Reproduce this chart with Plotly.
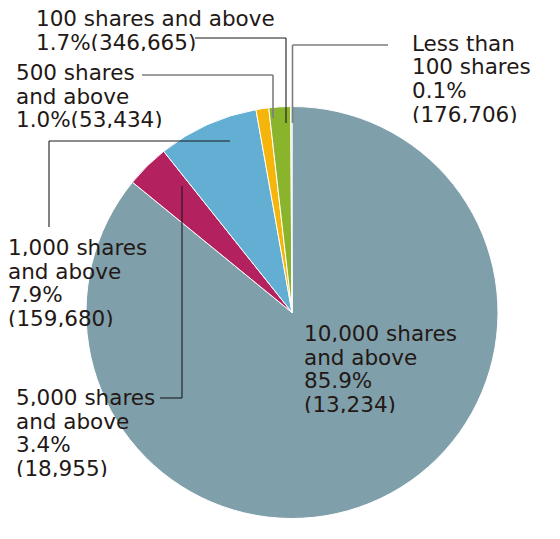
import plotly.graph_objects as go

# shareholders by number of shares held (share of total shares, number of holders)
categories = [
    "10,000 shares and above",
    "5,000 shares and above",
    "1,000 shares and above",
    "500 shares and above",
    "100 shares and above",
    "Less than 100 shares",
]
percents = [85.9, 3.4, 7.9, 1.0, 1.7, 0.1]
holders = [13234, 18955, 159680, 53434, 346665, 176706]
colors = ["#7f9faa", "#b3215f", "#63aed3", "#f5b50a", "#8bb42d", "#c8d99a"]

W, H = 560, 539
OFF = 8  # page body margin in the screenshot
CX, CY, R = 292, 312.5, 206

TEXT_COLOR = "#231815"
FONT = "DejaVu Sans"
SIZE = 21.5
LINE_H = 23.5


def px(x):
    return (x - OFF) / W


def py(y):
    return 1 - (y - OFF) / H


def pct(i):
    return f"{percents[i]:.1f}%"


def cnt(i):
    return f"({holders[i]:,})"


fig = go.Figure(
    go.Pie(
        labels=categories,
        values=percents,
        sort=False,
        direction="clockwise",
        rotation=0,
        marker=dict(colors=colors, line=dict(color="white", width=1)),
        textinfo="none",
        hoverinfo="label+percent",
        domain=dict(x=[px(CX - R), px(CX + R)], y=[py(CY + R), py(CY - R)]),
    )
)

# label blocks: (left x, first line centre y, lines)
blocks = [
    (303, 333, ["10,000 shares", "and above", pct(0), cnt(0)]),
    (15, 397, ["5,000 shares", "and above", pct(1), cnt(1)]),
    (7, 247, ["1,000 shares", "and above", pct(2), cnt(2)]),
    (15, 72, ["500 shares", "and above", f"{pct(3)}{cnt(3)}"]),
    (35, 18, ["100 shares and above", f"{pct(4)}{cnt(4)}"]),
    (411, 43, ["Less than", "100 shares", pct(5), cnt(5)]),
]

annotations = []
for x0, y0, lines in blocks:
    for k, line in enumerate(lines):
        annotations.append(
            dict(
                x=px(x0),
                y=py(y0 + k * LINE_H),
                xref="paper",
                yref="paper",
                xanchor="left",
                yanchor="middle",
                height=18,
                valign="middle",
                borderpad=0,
                text=line,
                showarrow=False,
                font=dict(family=FONT, size=SIZE, color=TEXT_COLOR),
            )
        )

# leader lines, in pixel coords: (points, colour, width)
DARK = ("#1a1a1a", 1.1)
GREY = ("#7d7d7d", 1.6)
leaders = [
    ([(195, 38), (286, 38), (286, 123)], DARK),
    ([(388, 45), (292.5, 45), (292.5, 123)], GREY),
    ([(142, 75), (273, 75), (273, 118)], GREY),
    ([(230, 141), (49, 141), (49, 227)], DARK),
    ([(182, 186), (182, 398), (160, 398)], DARK),
]
shapes = []
for pts, (lc, lw) in leaders:
    for (xa, ya), (xb, yb) in zip(pts[:-1], pts[1:]):
        shapes.append(
            dict(
                type="line",
                xref="paper",
                yref="paper",
                x0=px(xa),
                y0=py(ya),
                x1=px(xb),
                y1=py(yb),
                line=dict(color=lc, width=lw),
            )
        )

fig.update_layout(
    width=W,
    height=H,
    margin=dict(l=0, r=0, t=0, b=0),
    showlegend=False,
    paper_bgcolor="white",
    plot_bgcolor="white",
    annotations=annotations,
    shapes=shapes,
)

fig.write_html("out.html")
